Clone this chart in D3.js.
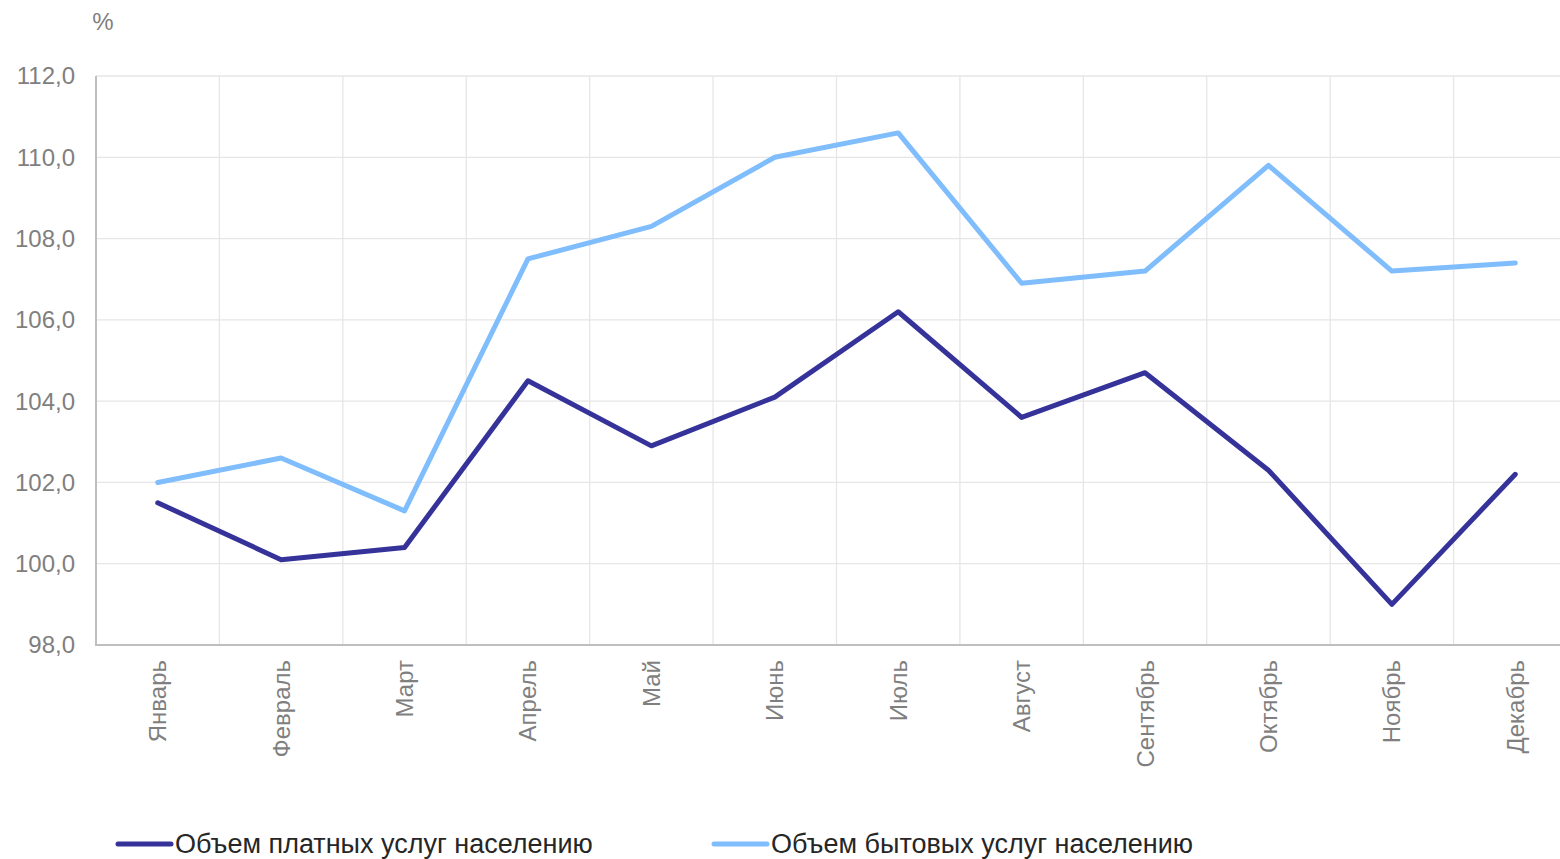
<!DOCTYPE html>
<html><head><meta charset="utf-8">
<script src="https://cdn.jsdelivr.net/npm/d3@7"></script>
<style>body{margin:0;background:#fff;overflow:hidden}svg{display:block;font-family:Arial,"Liberation Sans",sans-serif}</style>
</head><body><svg id="c" width="1560" height="859"></svg>
<script>
const months = ["Январь","Февраль","Март","Апрель","Май","Июнь","Июль","Август","Сентябрь","Октябрь","Ноябрь","Декабрь"];
const paidServices = [101.5,100.1,100.4,104.5,102.9,104.1,106.2,103.6,104.7,102.3,99.0,102.2];
const householdServices = [102.0,102.6,101.3,107.5,108.3,110.0,110.6,106.9,107.2,109.8,107.2,107.4];
const yTicks = [98,100,102,104,106,108,110,112];
const seriesNames = ["Объем платных услуг населению","Объем бытовых услуг населению"];
const seriesColors = ["#35339a","#7fbdfc"];

(function(){
const svg = d3.select("#c");
const pL = 96, pR = 1577, pT = 76, pB = 645;
const x = d3.scaleBand().domain(months).range([pL, pR]);
const y = d3.scaleLinear().domain([98,112]).range([pB, pT]);
const fmt = d => d.toFixed(1).replace(".", ",");

svg.append("g").selectAll("line").data(yTicks.filter(d=>d>98)).join("line")
  .attr("x1", pL).attr("x2", 1560).attr("y1", d=>y(d)).attr("y2", d=>y(d))
  .attr("stroke", "#e6e6e6").attr("stroke-width", 1.3);
svg.append("g").selectAll("line").data(months.slice(1)).join("line")
  .attr("x1", d=>x(d)).attr("x2", d=>x(d)).attr("y1", pT).attr("y2", pB)
  .attr("stroke", "#e6e6e6").attr("stroke-width", 1.3);

svg.append("line").attr("x1", pL).attr("x2", pL).attr("y1", pT).attr("y2", pB)
  .attr("stroke", "#bfbfbf").attr("stroke-width", 2);
svg.append("line").attr("x1", pL-1).attr("x2", 1560).attr("y1", pB).attr("y2", pB)
  .attr("stroke", "#bfbfbf").attr("stroke-width", 2);

svg.append("g").selectAll("text").data(yTicks).join("text")
  .attr("x", 75).attr("y", d=>y(d)).attr("dy", "0.35em").attr("text-anchor", "end")
  .attr("font-size", 24).attr("fill", "#7f7f7f").text(fmt);
svg.append("text").attr("x", 103).attr("y", 30).attr("text-anchor", "middle")
  .attr("font-size", 24).attr("fill", "#7f7f7f").text("%");

svg.append("g").selectAll("text").data(months).join("text")
  .attr("transform", d=>`translate(${x(d)+x.bandwidth()/2+8.5},660) rotate(-90)`)
  .attr("text-anchor", "end").attr("font-size", 24).attr("fill", "#7f7f7f").text(d=>d);

const line = d3.line().x((d,i)=>x(months[i])+x.bandwidth()/2).y(d=>y(d));
[paidServices, householdServices].forEach((s,i)=>{
  svg.append("path").datum(s).attr("d", line).attr("fill","none")
    .attr("stroke", seriesColors[i]).attr("stroke-width", 5)
    .attr("stroke-linejoin","round").attr("stroke-linecap","round");
});

const legX = [118, 714];
seriesNames.forEach((n,i)=>{
  svg.append("line").attr("x1", legX[i]).attr("x2", legX[i]+53).attr("y1", 844).attr("y2", 844)
    .attr("stroke", seriesColors[i]).attr("stroke-width", 5).attr("stroke-linecap","round");
  svg.append("text").attr("x", legX[i]+57).attr("y", 853).attr("font-size", 27)
    .attr("fill", "#262626").text(n);
});
})();
</script></body></html>
